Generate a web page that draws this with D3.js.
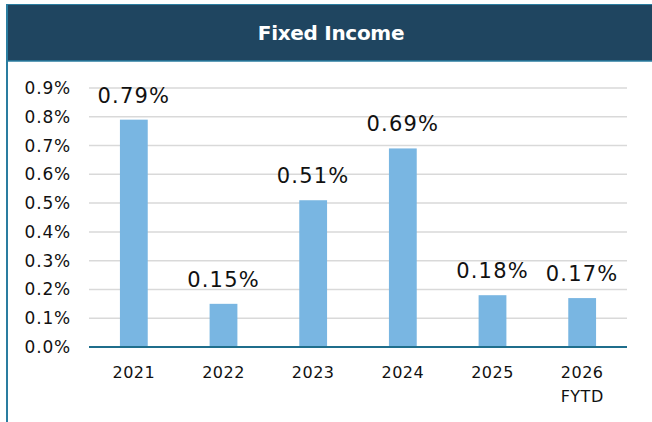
<!DOCTYPE html>
<html>
<head>
<meta charset="utf-8">
<script src="https://cdn.jsdelivr.net/npm/d3@7"></script>
<style>
    body { margin: 0; background: #fff; }
    svg text { font-family: "DejaVu Sans", sans-serif; }
</style>
</head>
<body>
<div id="chart"></div>
<script>
// chart data
const categories = ["2021", "2022", "2023", "2024", "2025", "2026\nFYTD"];
const values = [0.79, 0.15, 0.51, 0.69, 0.18, 0.17];
const yTicks = [0, 0.1, 0.2, 0.3, 0.4, 0.5, 0.6, 0.7, 0.8, 0.9];
const title = "Fixed Income";

const width = 652, height = 422;
const margin = {top: 88, right: 25, bottom: 75, left: 89};

let svg = d3.select("#chart").append("svg")
    .attr("width", width)
    .attr("height", height);

// frame + header band
svg.append("rect")
    .attr("x", 6).attr("y", 4)
    .attr("width", width - 6).attr("height", 57)
    .attr("fill", "#1f4560");

svg.append("line")
    .attr("x1", 6).attr("x2", width)
    .attr("y1", 4.5).attr("y2", 4.5)
    .attr("stroke", "#2a7da0").attr("stroke-width", 1);

svg.append("line")
    .attr("x1", 6).attr("x2", width)
    .attr("y1", 61).attr("y2", 61)
    .attr("stroke", "#2a7da0").attr("stroke-width", 1.5);

svg.append("line")
    .attr("x1", 7).attr("x2", 7)
    .attr("y1", 4).attr("y2", height)
    .attr("stroke", "#2a7da0").attr("stroke-width", 2);

svg.append("text")
    .attr("x", 331).attr("y", 40)
    .attr("text-anchor", "middle")
    .attr("fill", "#fff")
    .attr("font-size", "20px")
    .attr("font-weight", "bold")
    .attr("letter-spacing", "-0.3px")
    .text(title);

// scales
let x = d3.scaleBand()
    .domain(categories)
    .range([margin.left, width - margin.right])
    .paddingInner(0.69)
    .paddingOuter(0.345);

let y = d3.scaleLinear()
    .domain([0, 0.9])
    .range([height - margin.bottom, margin.top]);

// gridlines
svg.append("g")
    .selectAll("line")
    .data(yTicks.filter(d => d > 0))
    .enter()
    .append("line")
    .attr("x1", margin.left).attr("x2", width - margin.right)
    .attr("y1", d => y(d)).attr("y2", d => y(d))
    .attr("stroke", "#d9d9d9").attr("stroke-width", 1.5);

// y axis labels
let yAxis = d3.axisLeft(y)
    .tickValues(yTicks)
    .tickSize(0)
    .tickPadding(18)
    .tickFormat(d => d.toFixed(1) + "%");

svg.append("g")
    .attr("transform", `translate(${margin.left}, 0)`)
    .call(yAxis)
    .call(g => g.select(".domain").remove())
    .selectAll("text")
    .attr("font-size", "17px")
    .attr("letter-spacing", "0.8px")
    .attr("fill", "#111");

// bars
svg.append("g")
    .selectAll("rect")
    .data(values)
    .enter()
    .append("rect")
    .attr("x", (d, i) => x(categories[i]))
    .attr("y", d => y(d))
    .attr("width", x.bandwidth())
    .attr("height", d => y(0) - y(d))
    .attr("fill", "#79b6e2");

// value labels
svg.append("g")
    .selectAll("text")
    .data(values)
    .enter()
    .append("text")
    .attr("x", (d, i) => x(categories[i]) + x.bandwidth() / 2)
    .attr("y", d => y(d) - 17)
    .attr("text-anchor", "middle")
    .attr("font-size", "21px")
    .attr("letter-spacing", "1.2px")
    .attr("fill", "#111")
    .text(d => d.toFixed(2) + "%");

// x axis baseline
svg.append("line")
    .attr("x1", margin.left).attr("x2", width - margin.right)
    .attr("y1", y(0)).attr("y2", y(0))
    .attr("stroke", "#1f6e8c").attr("stroke-width", 2);

// x labels (multi-line)
let xLabels = svg.append("g")
    .selectAll("text")
    .data(categories)
    .enter()
    .append("text")
    .attr("text-anchor", "middle")
    .attr("font-size", "16px")
    .attr("letter-spacing", "0.5px")
    .attr("fill", "#111");

xLabels.each(function (d) {
    let lines = d.split("\n");
    let t = d3.select(this);
    lines.forEach((line, i) => {
        t.append("tspan")
            .attr("x", x(d) + x.bandwidth() / 2)
            .attr("y", y(0) + 31 + i * 24)
            .text(line);
    });
});
</script>
</body>
</html>
